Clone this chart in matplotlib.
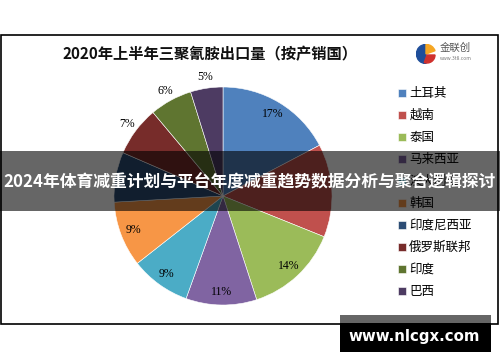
import numpy as np
import matplotlib
matplotlib.use('Agg')
import matplotlib.pyplot as plt
from matplotlib.patches import Rectangle, Wedge

plt.rcParams['font.family'] = ['Noto Sans CJK SC', 'DejaVu Sans']

# DATA
countries = ['土耳其', '越南', '泰国', '马来西亚', '澳大利亚', '韩国',
             '印度尼西亚', '俄罗斯联邦', '印度', '巴西']
shares = [17.3, 13.8, 13.9, 10.5, 8.9, 9.7, 7.4, 7.4, 6.3, 4.8]
# the labels of 越南 and 印度尼西亚 sit under the banner and can't be seen
labels = ['17%', '', '14%', '11%', '9%', '9%', '', '7%', '6%', '5%']
colors = ['#4F81BD', '#C0504D', '#9BBB59', '#8064A2', '#4BACC6', '#F79646',
          '#2C4D75', '#772C2A', '#5F7530', '#4D3B62']
outside = [False, False, False, False, False, False, False, True, True, True]

title = '2020年上半年三聚氰胺出口量（按产销国）'
banner = '2024年体育减重计划与平台年度减重趋势数据分析与聚合逻辑探讨'
site = 'www.nlcgx.com'

W, H = 500, 362
fig = plt.figure(figsize=(W / 100, H / 100), dpi=100)


def px(x, y):
    # pixel (from top-left) -> figure fraction
    return x / W, 1 - y / H


# chart frame
fig.patches.append(Rectangle((1 / W, 1 - 324 / H), 497 / W, 289 / H,
                             transform=fig.transFigure, fill=False,
                             edgecolor='black', linewidth=1.2, zorder=1))

# PIE
cx, cy, half = 223, 196, 115
ax = fig.add_axes([(cx - half) / W, 1 - (cy + half) / H, 2 * half / W, 2 * half / H])
wedges, _ = ax.pie(shares, colors=colors, startangle=90, counterclock=False,
                   wedgeprops=dict(edgecolor='white', linewidth=0.4))
ax.set_xlim(-1.055, 1.055)
ax.set_ylim(-1.055, 1.055)
ax.set_aspect('equal')
ax.axis('off')

for w, lab, out in zip(wedges, labels, outside):
    if not lab:
        continue
    mid = np.deg2rad((w.theta1 + w.theta2) / 2)
    r = 1.1 if out else 0.88
    ax.text(r * np.cos(mid), r * np.sin(mid), lab, ha='center', va='center',
            fontsize=8.5, family='Liberation Serif')

fig.text(*px(210, 54), title, ha='center', va='center', fontsize=11,
         fontweight='heavy', color='#111111')

# logo
lax = fig.add_axes([415 / W, 1 - 64 / H, 22 / W, 20 / H])
lax.add_patch(Wedge((0.5, 0.5), 0.48, 90, 270, color='#1F4E9A'))
lax.add_patch(Wedge((0.5, 0.5), 0.48, 20, 90, color='#F5A623'))
lax.add_patch(Wedge((0.55, 0.45), 0.4, 250, 360, color='#D0312D'))
lax.set_xlim(0, 1)
lax.set_ylim(0, 1)
lax.set_aspect('equal')
lax.axis('off')
fig.text(*px(440, 48), '金联创', ha='left', va='center', fontsize=7.5, color='#555555')
fig.text(*px(440, 58), 'www.3t8.com', ha='left', va='center', fontsize=3.5, color='#777777')

# LEGEND
leg = fig.legend(wedges, countries, loc='upper left',
                 bbox_to_anchor=px(393, 82), frameon=False, fontsize=9,
                 handlelength=0.6, handleheight=0.6, handletextpad=0.3,
                 labelspacing=0.72, borderaxespad=0)

# overlay banner
fig.patches.append(Rectangle((0, 1 - 211 / H), 1, 60 / H, transform=fig.transFigure,
                             facecolor='black', alpha=0.6, edgecolor='none', zorder=10))
fig.text(*px(250, 182), banner, ha='center', va='center', fontsize=12.1,
         fontweight='bold', color='white', zorder=11)

# watermark
fig.patches.append(Rectangle((340 / W, 1 - 323 / H), 151 / W, 8 / H, transform=fig.transFigure,
                             facecolor='black', alpha=0.6, edgecolor='none', zorder=10))
fig.patches.append(Rectangle((340 / W, 1 - 352 / H), 151 / W, 29 / H, transform=fig.transFigure,
                             facecolor='black', edgecolor='none', zorder=10))
fig.text(*px(414, 337), site, ha='center', va='center', fontsize=10.8,
         fontweight='bold', color='white', family='DejaVu Sans', zorder=11)

fig.savefig('out.png', dpi=100)
